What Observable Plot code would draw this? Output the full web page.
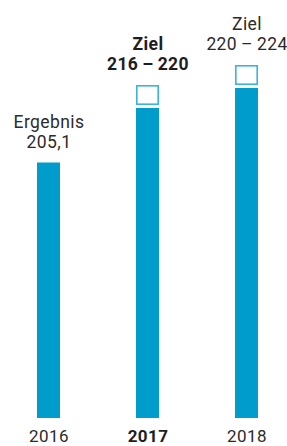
<!DOCTYPE html>
<html><head><meta charset="utf-8">
<script src="https://cdn.jsdelivr.net/npm/d3@7"></script>
<script src="https://cdn.jsdelivr.net/npm/@observablehq/plot@0.6"></script>
<style>
html,body{margin:0;padding:0;background:#fff;}
svg{display:block;}
</style>
</head><body>
<div id="chart"></div>
<script>
const years = ["2016", "2017", "2018"];
const barValues = [205.1, 216, 220];
const targetLow = [null, 216, 220];
const targetHigh = [null, 220, 224];
const labelTop = ["Ergebnis", "Ziel", "Ziel"];
const labelBottom = ["205,1", "216\u2009–\u2009220", "220\u2009–\u2009224"];
const boldYear = "2017";
const yDomain = [154, 237.6];

const bars = years.map((y, i) => ({year: y, value: barValues[i]}));
const targets = years.map((y, i) => ({year: y, lo: targetLow[i], hi: targetHigh[i]})).filter(d => d.lo != null);
const labels = years.map((y, i) => ({
  year: y,
  anchor: targetHigh[i] != null ? targetHigh[i] : barValues[i],
  hasTarget: targetHigh[i] != null,
  text: labelTop[i] + "\n" + labelBottom[i]
}));

const blue = "#009ccb";
const lightBlue = "#3bb3dc";
const ink = "#2b2b2b";
const font = "Roboto, 'Open Sans', sans-serif";
const fs = 17.5;
const lh = 20 / fs;

const isBold = d => d.year === boldYear;

const chart = Plot.plot({
  width: 287,
  height: 446,
  margin: 0,
  style: {fontFamily: font, background: "#fff", letterSpacing: "0.4px"},
  x: {type: "band", domain: years, range: [-1, 296], padding: 0, axis: null},
  y: {domain: yDomain, range: [418, 0], axis: null},
  marks: [
    Plot.barY(bars, {x: "year", y1: yDomain[0], y2: "value", fill: blue, insetLeft: 38, insetRight: 38}),
    Plot.barY(targets, {x: "year", y1: "lo", y2: "hi", fill: "none", stroke: lightBlue, strokeWidth: 1.6,
      insetLeft: 38.8, insetRight: 38.8, insetTop: 0.8, insetBottom: 0.8, dy: -3}),
    Plot.text(labels.filter(d => !d.hasTarget), {x: "year", y: "anchor", text: "text", lineAnchor: "bottom",
      lineHeight: lh, dy: -15.5, fontSize: fs, fill: ink}),
    Plot.text(labels.filter(d => d.hasTarget && !isBold(d)), {x: "year", y: "anchor", text: "text", lineAnchor: "bottom",
      lineHeight: lh, dy: -18.5, fontSize: fs, fill: ink}),
    Plot.text(labels.filter(d => d.hasTarget && isBold(d)), {x: "year", y: "anchor", text: "text", lineAnchor: "bottom",
      lineHeight: lh, dy: -18.5, fontSize: fs, fill: "#1e1e1e", fontWeight: "bold"}),
    Plot.text(years.filter(y => y !== boldYear), {x: d => d, text: d => d, frameAnchor: "bottom", lineAnchor: "bottom", dy: -4.5,
      fontSize: 17, fill: ink}),
    Plot.text(years.filter(y => y === boldYear), {x: d => d, text: d => d, frameAnchor: "bottom", lineAnchor: "bottom", dy: -4.5,
      fontSize: 17, fill: "#1e1e1e", fontWeight: "bold"})
  ]
});
document.getElementById("chart").appendChild(chart);
</script>
</body></html>
